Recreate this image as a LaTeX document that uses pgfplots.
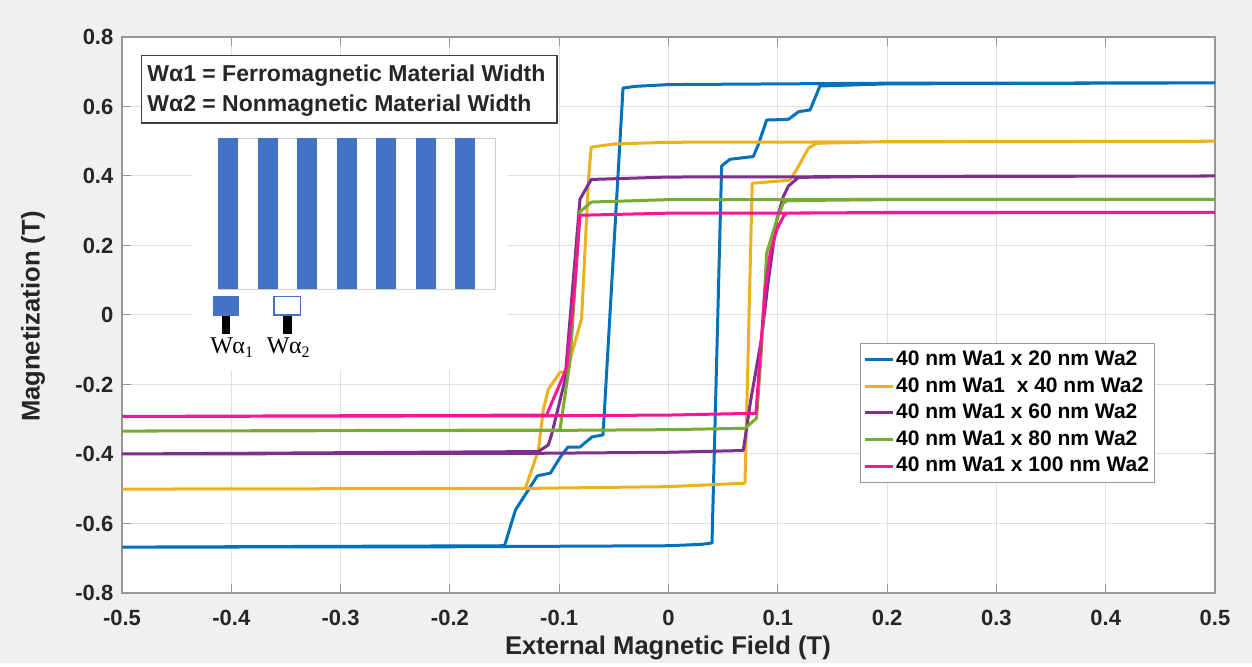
\documentclass[border=0pt]{standalone}
\usepackage{fontspec}
\setmainfont{Liberation Sans}
\newfontfamily\seriffont{Liberation Serif}
\usepackage{pgfplots}
\pgfplotsset{compat=1.18}
\definecolor{figbg}{RGB}{240,240,240}
\definecolor{mblue}{RGB}{0,114,189}
\definecolor{myellow}{RGB}{237,177,32}
\definecolor{mpurple}{RGB}{126,47,142}
\definecolor{mgreen}{RGB}{119,172,48}
\definecolor{mpink}{RGB}{250,20,150}
\definecolor{gridc}{RGB}{224,224,224}
\definecolor{axc}{RGB}{150,150,150}
\definecolor{txt}{RGB}{38,38,38}
\definecolor{ofblue}{RGB}{68,114,196}
\begin{document}
\begin{tikzpicture}[x=1pt,y=1pt]
\fill[figbg] (0,0) rectangle (626,331.5);
\begin{axis}[
  at={(61pt,35pt)}, anchor=south west,
  scale only axis, width=546.5pt, height=278pt,
  xmin=-0.5, xmax=0.5, ymin=-0.8, ymax=0.8,
  axis background/.style={fill=white},
  xtick={-0.5,-0.4,-0.3,-0.2,-0.1,0,0.1,0.2,0.3,0.4,0.5},
  xticklabels={-0.5,-0.4,-0.3,-0.2,-0.1,0,0.1,0.2,0.3,0.4,0.5},
  ytick={-0.8,-0.6,-0.4,-0.2,0,0.2,0.4,0.6,0.8},
  yticklabels={-0.8,-0.6,-0.4,-0.2,0,0.2,0.4,0.6,0.8},
  tick align=inside, tick pos=both,
  major tick length=4.5pt,
  tick style={axc, line width=0.5pt},
  axis line style={axc, line width=0.6pt},
  grid=major, grid style={gridc, line width=0.5pt},
  tick label style={font=\bfseries\fontsize{11}{13}\selectfont, text=txt},
  xticklabel style={anchor=north, yshift=-4.8pt},
  yticklabel style={anchor=east, xshift=-0.8pt},
  xlabel={External Magnetic Field (T)},
  ylabel={Magnetization (T)},
  every axis x label/.style={at={(axis description cs:0.4995,-0.099)}, anchor=center,
    font=\bfseries\fontsize{12.8}{15}\selectfont, text=txt},
  every axis y label/.style={at={(axis description cs:-0.0814,0.497)}, rotate=90, anchor=center,
    font=\bfseries\fontsize{12.8}{15}\selectfont, text=txt},
  legend style={at={(0.675,0.4496)}, anchor=north west, draw=axc, fill=white,
    font=\bfseries\fontsize{10.5}{12}\selectfont, inner sep=1.5pt, row sep=0pt,
    nodes={inner sep=1pt, text height=8.5pt, text depth=2.8pt}},
  legend cell align=left,
  legend image code/.code={\draw[#1, line width=1.5pt] (0pt,0pt) -- (14pt,0pt);},
  every axis plot/.append style={line width=1.5pt, line join=round},
]
\addplot[mblue] coordinates {
(-0.5,-0.668) (-0.2,-0.667) (0,-0.664) (0.03,-0.660) (0.0398,-0.656)
(0.0486,0.429) (0.0563,0.448) (0.0776,0.456) (0.082,0.489) (0.0898,0.561)
(0.1097,0.563) (0.119,0.585) (0.1295,0.590) (0.1386,0.659) (0.2,0.665) (0.5,0.668)
(0.2,0.667) (0,0.663) (-0.03,0.658) (-0.0416,0.653)
(-0.0599,-0.345) (-0.070,-0.351) (-0.081,-0.380) (-0.092,-0.380) (-0.099,-0.409)
(-0.108,-0.455) (-0.120,-0.463) (-0.140,-0.561) (-0.150,-0.664) (-0.5,-0.668)
};
\addlegendentry{40 nm Wa1 x 20 nm Wa2}
\addplot[myellow] coordinates {
(-0.5,-0.501) (-0.13,-0.499) (0,-0.494) (0.070,-0.484)
(0.0766,0.379) (0.111,0.388) (0.117,0.417) (0.128,0.480) (0.1355,0.494) (0.2,0.499) (0.5,0.500)
(0,0.497) (-0.05,0.492) (-0.0707,0.483) (-0.073,0.40) (-0.0795,-0.01)
(-0.093,-0.163) (-0.0993,-0.165) (-0.110,-0.214) (-0.1146,-0.273) (-0.119,-0.389)
(-0.131,-0.499) (-0.5,-0.501)
};
\addlegendentry{40 nm Wa1\ \ x 40 nm Wa2}
\addplot[mpurple] coordinates {
(-0.5,-0.400) (-0.119,-0.398) (0,-0.395) (0.0684,-0.390)
(0.075,-0.25) (0.085,-0.07) (0.091,0.09) (0.099,0.273) (0.105,0.34) (0.1097,0.371)
(0.119,0.396) (0.2,0.399) (0.5,0.400)
(0,0.397) (-0.0707,0.390) (-0.081,0.333) (-0.0818,0.302) (-0.0947,-0.187)
(-0.107,-0.345) (-0.110,-0.374) (-0.119,-0.393) (-0.5,-0.400)
};
\addlegendentry{40 nm Wa1 x 60 nm Wa2}
\addplot[mgreen] coordinates {
(-0.5,-0.334) (-0.099,-0.332) (0,-0.330) (0.070,-0.326) (0.0806,-0.297)
(0.085,-0.10) (0.0898,0.178) (0.099,0.273) (0.105,0.322) (0.109,0.329) (0.2,0.332) (0.5,0.333)
(0,0.332) (-0.0707,0.325) (-0.081,0.297) (-0.090,-0.13) (-0.0993,-0.331) (-0.5,-0.334)
};
\addlegendentry{40 nm Wa1 x 80 nm Wa2}
\addplot[mpink] coordinates {
(-0.5,-0.292) (-0.1115,-0.290) (0,-0.288) (0.0776,-0.283) (0.080,-0.283)
(0.088,0.062) (0.093,0.178) (0.099,0.245) (0.105,0.283) (0.108,0.293) (0.2,0.295) (0.5,0.295)
(0,0.293) (-0.081,0.287) (-0.0856,0.091) (-0.093,-0.149) (-0.0978,-0.187)
(-0.107,-0.254) (-0.1115,-0.288) (-0.5,-0.292)
};
\addlegendentry{40 nm Wa1 x 100 nm Wa2}
\end{axis}
\begin{scope}[x=0.5pt, y=-0.5pt, yshift=331.5pt]
  % white picture region
  \fill[white] (192,125) rectangle (507,370);
  % text box
  \draw[black!75, fill=white, line width=0.6pt] (141.5,55.5) rectangle (557,123);
  \node[anchor=base west, inner sep=0, font=\bfseries\fontsize{11.5}{13}\selectfont, text=black!85] at (147,82) {Wα1 = Ferromagnetic Material Width};
  \node[anchor=base west, inner sep=0, font=\bfseries\fontsize{11.5}{13}\selectfont, text=black!85] at (147,112) {Wα2 = Nonmagnetic Material Width};
  % striped rectangle
  \draw[black!20, line width=0.4pt] (218.3,138.3) rectangle (495,289.3);
  \foreach \bx in {218.3,257.8,297.3,336.8,376.3,415.8,455.3} {
    \fill[ofblue] (\bx,138.3) rectangle ++(20,151);
  }
  % small squares
  \fill[ofblue] (212.7,296) rectangle (239.3,315.7);
  \draw[ofblue, fill=white, line width=0.8pt] (273.8,296.5) rectangle (300.3,315.2);
  \fill[black] (221.7,315.7) rectangle (230,334);
  \fill[black] (283.3,315.7) rectangle (291.7,334);
  \node[anchor=base, inner sep=0, font=\seriffont\fontsize{12}{14}\selectfont] at (231.7,353.3) {W\kern-0.3ptα\raisebox{-0.4ex}{\fontsize{8}{9}\selectfont 1}};
  \node[anchor=base, inner sep=0, font=\seriffont\fontsize{12}{14}\selectfont] at (288.3,353.3) {W\kern-0.3ptα\raisebox{-0.4ex}{\fontsize{8}{9}\selectfont 2}};
\end{scope}
\end{tikzpicture}
\end{document}
